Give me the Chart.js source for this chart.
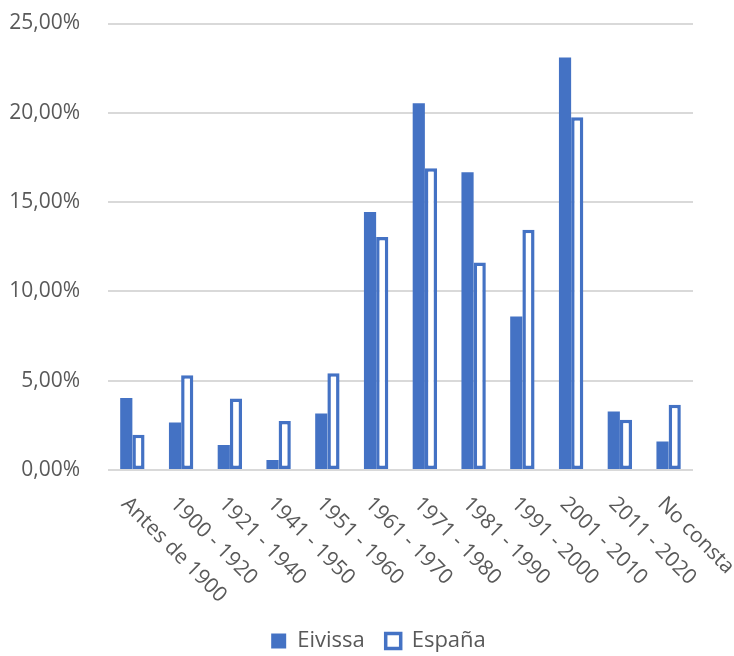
<!DOCTYPE html>
<html>
<head>
<meta charset="utf-8">
<script src="https://cdn.jsdelivr.net/npm/chart.js@4/dist/chart.umd.min.js"></script>
<style>
  html, body { margin: 0; padding: 0; background: #ffffff; }
  #wrap { width: 734px; height: 656px; position: relative; }
</style>
</head>
<body>
<div id="wrap"><canvas id="c"></canvas></div>
<script>
const categories = ["Antes de 1900", "1900 - 1920", "1921 - 1940", "1941 - 1950", "1951 - 1960", "1961 - 1970", "1971 - 1980", "1981 - 1990", "1991 - 2000", "2001 - 2010", "2011 - 2020", "No consta"];
const eivissa = [4.03, 2.66, 1.40, 0.56, 3.16, 14.45, 20.54, 16.67, 8.60, 23.09, 3.28, 1.59];
const espana  = [1.97, 5.30, 4.00, 2.75, 5.42, 13.05, 16.90, 11.62, 13.45, 19.75, 2.82, 3.66];
const yTicks = [0, 5, 10, 15, 20, 25];
const seriesNames = ["Eivissa", "España"];

const BLUE = '#4472C4';
const TEXT = '#595959';
const FONT = "'Open Sans', sans-serif";

const rotatedLabels = {
  id: 'rotatedLabels',
  afterLayout(chart) {
    if (chart.legend) { chart.legend.left = 23; chart.legend.right = chart.width; }
  },
  afterDraw(chart) {
    const xs = chart.scales.x;
    const ctx = chart.ctx;
    const base = chart.chartArea.bottom;
    ctx.save();
    ctx.fillStyle = TEXT;
    ctx.font = "21px " + FONT;
    ctx.textAlign = 'left';
    ctx.textBaseline = 'alphabetic';
    categories.forEach((lab, i) => {
      const x = xs.getPixelForValue(i);
      ctx.save();
      ctx.translate(x - 12, base + 35);
      ctx.rotate(Math.PI / 4);
      ctx.fillText(lab, 0, 0);
      ctx.restore();
    });
    ctx.restore();
  }
};

new Chart(document.getElementById('c'), {
  type: 'bar',
  data: {
    labels: categories,
    datasets: [
      { label: seriesNames[0], data: eivissa, backgroundColor: BLUE, borderColor: BLUE, borderWidth: 0 },
      { label: seriesNames[1], data: espana, backgroundColor: '#ffffff', borderColor: BLUE, borderWidth: 3.5, borderSkipped: false }
    ]
  },
  options: {
    responsive: true,
    maintainAspectRatio: false,
    animation: false,
    datasets: { bar: { categoryPercentage: 0.5, barPercentage: 1.0 } },
    layout: { padding: { top: 0, right: 41, left: 8, bottom: -6 } },
    plugins: {
      legend: {
        position: 'bottom',
        labels: {
          color: TEXT,
          font: { family: FONT, size: 22 },
          boxWidth: 15,
          boxHeight: 15,
          padding: 21
        }
      },
      tooltip: { enabled: false }
    },
    scales: {
      x: {
        grid: { display: false },
        border: { display: false },
        ticks: { display: false },
        afterFit(scale) { scale.height = 139; }
      },
      y: {
        min: 0,
        max: 25,
        afterBuildTicks(scale) { scale.ticks = yTicks.map(v => ({ value: v })); },
        grid: { color: '#d9d9d9', lineWidth: 2, drawTicks: false },
        border: { display: false },
        ticks: {
          padding: 28,
          color: TEXT,
          font: { family: FONT, size: 21 },
          callback: v => v.toFixed(2).replace('.', ',') + '%'
        },
        afterFit(scale) { scale.width = 100; scale.paddingTop = 23.5; scale.paddingBottom = 12; }
      }
    }
  },
  plugins: [rotatedLabels]
});
</script>
</body>
</html>
